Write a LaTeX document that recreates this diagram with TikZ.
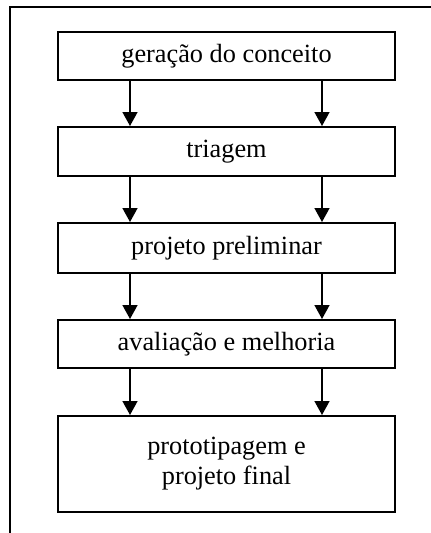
\documentclass[tikz,border=0pt]{standalone}
\usepackage{fontspec}
\setmainfont{Liberation Serif}
\usetikzlibrary{arrows.meta}
\begin{document}
\begin{tikzpicture}[x=1pt,y=-1pt,
  stage/.style={draw=black, line width=2pt, minimum width=337pt, inner sep=0pt, align=center,
    font=\fontsize{26.3}{30}\selectfont},
  flow/.style={line width=1.6pt, -{Triangle[length=14pt,width=15pt]}}]
\useasboundingbox (0,0) rectangle (431,533);
\draw[line width=2pt] (10,540) -- (10,7) -- (440,7);
\node[stage, minimum height=48pt] (b1) at (226.5,56) {geração do conceito};
\node[stage, minimum height=49pt] (b2) at (226.5,151.5) {triagem};
\node[stage, minimum height=50pt] (b3) at (226.5,248) {projeto preliminar};
\node[stage, minimum height=48pt] (b4) at (226.5,344) {avaliação e melhoria};
\node[stage, minimum height=96pt] (b5) at (226.5,464) {prototipagem e\\projeto final};
\foreach \a/\b in {b1/b2,b2/b3,b3/b4,b4/b5}{
  \draw[flow] (\a.south -| 130,0) -- (\b.north -| 130,0);
  \draw[flow] (\a.south -| 322,0) -- (\b.north -| 322,0);
}
\end{tikzpicture}
\end{document}
